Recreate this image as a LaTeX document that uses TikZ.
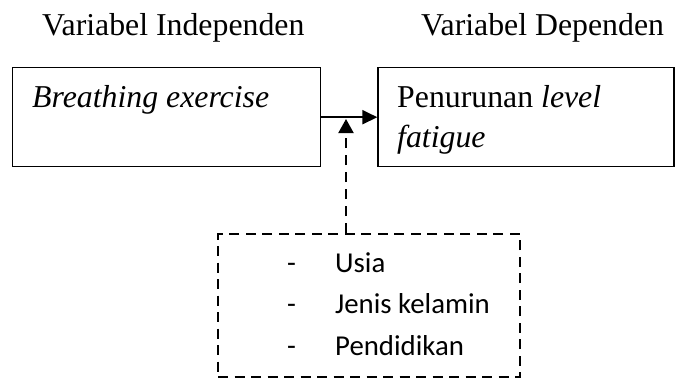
\documentclass[tikz,border=0pt]{standalone}
\usepackage{fontspec}
\setmainfont{Liberation Serif}[ItalicFont={Liberation Serif Italic}]
\newfontfamily\listfont{Carlito}
\usetikzlibrary{arrows.meta}

\begin{document}
\begin{tikzpicture}[x=1pt,y=-1pt,
  varbox/.style={draw,line width=1.3pt,inner sep=0pt,minimum width=308.4pt,minimum height=99pt},
  ctrlbox/.style={draw,line width=2pt,dash pattern=on 10pt off 6.5pt,inner sep=0pt,
                  minimum width=302pt,minimum height=143pt},
  head/.style={inner sep=0pt,anchor=base west,font=\fontsize{31.8}{40}\selectfont},
  boxtext/.style={inner sep=0pt,anchor=base west,font=\fontsize{31.8}{40}\selectfont},
  item/.style={inner sep=0pt,anchor=base west,font=\listfont\fontsize{28.8}{41}\selectfont},
  flow/.style={line width=2pt,-{Triangle[length=15pt,width=14pt]}},
  influence/.style={line width=2pt,dash pattern=on 10pt off 7pt,-{Triangle[length=14pt,width=15pt]}}
]
\useasboundingbox (0,0) rectangle (676,380);

% column headings
\node[head] (hIndep) at (42,35) {Variabel Independen};
\node[head] (hDep) at (421,35) {Variabel Dependen};

% independent and dependent variable boxes
\node[varbox] (indep) at (166.5,117.2) {};
\node[boxtext] (indepText) at (32,107) {\textit{Breathing exercise}};

\node[varbox,minimum width=296pt] (dep) at (526,117.2) {};
\node[boxtext] (depText1) at (397,107) {Penurunan \textit{level}};
\node[boxtext] (depText2) at (397,147) {\textit{fatigue}};

% confounding variables
\node[ctrlbox] (ctrl) at (369,305.5) {};
\node[item] (d1) at (287,272.7) {-};
\node[item] (i1) at (335,272.7) {Usia};
\node[item] (d2) at (287,313) {-};
\node[item] (i2) at (335,313) {Jenis kelamin};
\node[item] (d3) at (287,355) {-};
\node[item] (i3) at (335,355) {Pendidikan};

% connectors
\draw[flow] (indep.east) -- (dep.west);
\coordinate (hit) at (346,119);
\draw[influence] (ctrl.north -| hit) -- (hit);
\end{tikzpicture}
\end{document}
